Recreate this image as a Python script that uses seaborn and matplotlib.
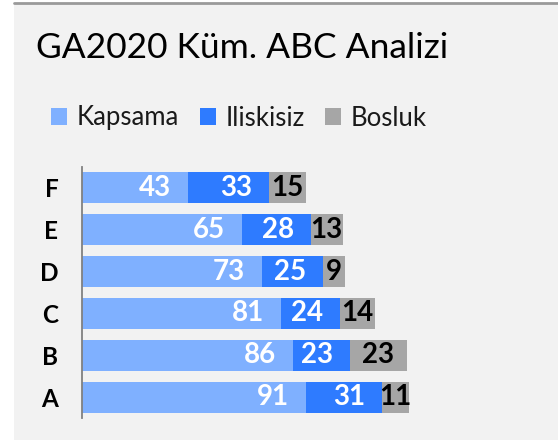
import pandas as pd
import numpy as np
import matplotlib
matplotlib.use("Agg")
import matplotlib.pyplot as plt
import seaborn as sns

# -------------------------
# dane
# -------------------------
kategoriler = ["F", "E", "D", "C", "B", "A"]
kapsama = [43, 65, 73, 81, 86, 91]
iliskisiz = [33, 28, 25, 24, 23, 31]
bosluk = [15, 13, 9, 14, 23, 11]

seri_adlari = ["Kapsama", "Iliskisiz", "Bosluk"]
renkler = ["#7FB0FF", "#2E7BFF", "#A6A6A6"]

df = pd.DataFrame({
    "Kategori": kategoriler,
    "Kapsama": kapsama,
    "Iliskisiz": iliskisiz,
    "Bosluk": bosluk,
})
# kumulatif toplamlar (ust uste cizmek icin)
df["c1"] = df["Kapsama"]
df["c2"] = df["Kapsama"] + df["Iliskisiz"]
df["c3"] = df["c2"] + df["Bosluk"]

sns.set_theme(style="white")
plt.rcParams["font.family"] = ["Lato", "DejaVu Sans"]

fig = plt.figure(figsize=(5.58, 4.40), dpi=100, facecolor="white")

# arka plan paneli + ust cizgi
fig.patches.append(plt.Rectangle((14 / 558, 0), 1, (440 - 3) / 440,
                                 transform=fig.transFigure, facecolor="#F2F2F2",
                                 edgecolor="none", zorder=-10))
fig.add_artist(plt.Line2D([14 / 558, 1], [1 - 3 / 440, 1 - 3 / 440],
                          transform=fig.transFigure, color="#9A9A9A", lw=2))

ax = fig.add_axes([82 / 558, 22 / 440, 1 - 82 / 558 - 0.03, (418 - 167) / 440])
ax.set_facecolor("none")
ax.set_zorder(5)

# en uzundan baslayarak ust uste
for col, ad, renk in zip(["c3", "c2", "c1"], seri_adlari[::-1], renkler[::-1]):
    sns.barplot(data=df, x=col, y="Kategori", order=kategoriler, color=renk,
                width=0.74, label=ad, ax=ax, saturation=1, linewidth=0)
if ax.get_legend() is not None:
    ax.get_legend().remove()

# etiketler
for i, row in df.iterrows():
    ax.annotate(str(row["Kapsama"]), xy=(row["c1"], i), xytext=(-17, 0),
                textcoords="offset pixels", ha="right", va="center",
                color="white", fontsize=20, fontweight="bold")
    ax.annotate(str(row["Iliskisiz"]), xy=(row["c2"], i), xytext=(-17, 0),
                textcoords="offset pixels", ha="right", va="center",
                color="white", fontsize=20, fontweight="bold")
    ax.text((row["c2"] + row["c3"]) / 2, i, str(row["Bosluk"]),
            ha="center", va="center", color="black", fontsize=20, fontweight="bold")

ax.set_xlim(0, (558 * 0.97 - 82) / 2.459)
ax.set_ylim(5.5, -0.5)
ax.set_xlabel("")
ax.set_ylabel("")
ax.set_xticks([])
ax.tick_params(axis="y", length=0, pad=17)
for lbl in ax.get_yticklabels():
    lbl.set_fontsize(17.5)
    lbl.set_fontweight("bold")
    lbl.set_color("black")
for s in ["top", "right", "bottom"]:
    ax.spines[s].set_visible(False)
ax.spines["left"].set_color("#808080")
ax.spines["left"].set_linewidth(1.3)

# legend
h, l = ax.get_legend_handles_labels()
sira = [l.index(a) for a in seri_adlari]
leg = fig.legend([h[k] for k in sira], seri_adlari, loc="center left",
                 bbox_to_anchor=(28 / 558, 1 - 118 / 440), ncol=3, frameon=False,
                 fontsize=18.5, handlelength=0.63, handleheight=0.63,
                 handletextpad=0.37, columnspacing=0.8)
for t in leg.get_texts():
    t.set_color("#1A1A1A")

fig.text(36 / 558, 1 - 58 / 440, "GA2020 Küm. ABC Analizi", fontsize=25.5,
         color="black", va="baseline", ha="left")

fig.savefig("out.png", dpi=100, facecolor=fig.get_facecolor())
